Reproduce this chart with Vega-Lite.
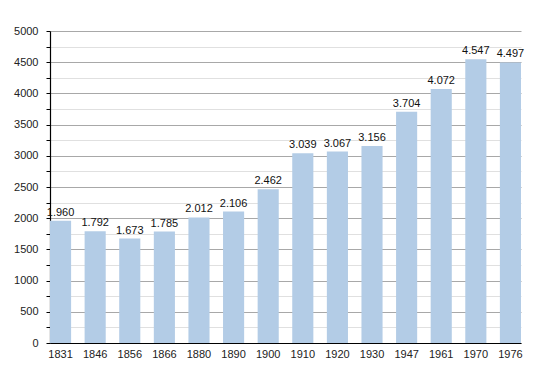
{
  "$schema": "https://vega.github.io/schema/vega-lite/v6.json",
  "width": 471,
  "height": 312,
  "autosize": "none",
  "padding": {"left": 50, "top": 31, "right": 29, "bottom": 30},
  "background": "white",
  "config": {
    "view": {"stroke": null},
    "font": "Liberation Sans",
    "locale": {"number": {"decimal": ",", "thousands": ".", "grouping": [3], "currency": ["", " €"]}}
  },
  "data": {"values": [
    {"year": "1831", "pop": 1960},
    {"year": "1846", "pop": 1792},
    {"year": "1856", "pop": 1673},
    {"year": "1866", "pop": 1785},
    {"year": "1880", "pop": 2012},
    {"year": "1890", "pop": 2106},
    {"year": "1900", "pop": 2462},
    {"year": "1910", "pop": 3039},
    {"year": "1920", "pop": 3067},
    {"year": "1930", "pop": 3156},
    {"year": "1947", "pop": 3704},
    {"year": "1961", "pop": 4072},
    {"year": "1970", "pop": 4547},
    {"year": "1976", "pop": 4497}
  ]},
  "encoding": {
    "x": {
      "field": "year", "type": "nominal", "sort": null,
      "scale": {"paddingInner": 0.39, "paddingOuter": 0},
      "axis": {"title": null, "labelAngle": 0, "ticks": false, "domainColor": "#000", "domainWidth": 1.2, "labelFontSize": 11, "labelColor": "#222", "labelPadding": 5, "grid": false}
    },
    "y": {
      "field": "pop", "type": "quantitative",
      "scale": {"domain": [0, 5000], "nice": false},
      "axis": {
        "title": null,
        "values": [0,250,500,750,1000,1250,1500,1750,2000,2250,2500,2750,3000,3250,3500,3750,4000,4250,4500,4750,5000],
        "format": "d",
        "labelExpr": "datum.value % 500 === 0 ? datum.value : ''",
        "grid": true,
        "gridColor": {"condition": {"test": "datum.value % 500 === 0", "value": "#a8a8a8"}, "value": "#e0e0e0"},
        "gridWidth": 1,
        "domainColor": "#000",
        "domainWidth": 1.2,
        "tickColor": "#000",
        "tickSize": 4,
        "labelFontSize": 11,
        "labelColor": "#222",
        "labelPadding": 8
      }
    }
  },
  "layer": [
    {"mark": {"type": "bar", "color": "#b3cce6"}},
    {
      "mark": {"type": "text", "baseline": "bottom", "dy": -3, "fontSize": 11, "color": "#111"},
      "encoding": {"text": {"field": "pop", "type": "quantitative", "format": ",d"}}
    }
  ]
}
